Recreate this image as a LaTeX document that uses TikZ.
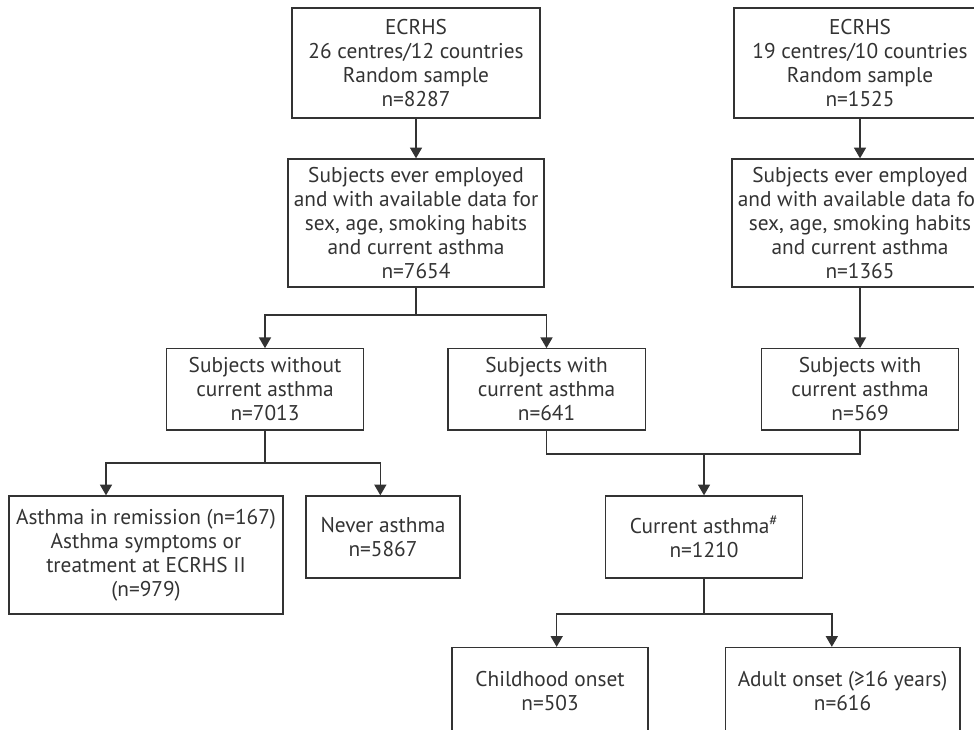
\documentclass[tikz,border=0pt]{standalone}
\usepackage{fontspec}
\setmainfont{PT Sans}
\usetikzlibrary{arrows.meta}

\definecolor{ink}{HTML}{333333}

\tikzset{
  box/.style={draw=ink, line width=1pt, text=ink, align=center, inner sep=0pt,
    font=\fontsize{16}{18}\selectfont},
  arr/.style={draw=ink, line width=1pt, -{Triangle[width=9pt,length=8pt]}},
  lin/.style={draw=ink, line width=1pt}
}

\begin{document}
\begin{tikzpicture}[x=0.75pt, y=-0.75pt] % one unit = one pixel of the flow chart
\useasboundingbox (0,0) rectangle (974,730);

%% the two ECRHS samples
\node[box, minimum width=186pt, minimum height=82.5pt] (ecrhsA) at (416,63)
  {ECRHS\\26 centres/12 countries\\Random sample\\n=8287};
\node[box, minimum width=189pt, minimum height=82.5pt] (ecrhsB) at (860,63)
  {ECRHS\\19 centres/10 countries\\Random sample\\n=1525};

%% subjects ever employed
\node[box, minimum width=192pt, minimum height=96pt] (employA) at (416,223)
  {Subjects ever employed\\and with available data for\\sex, age, smoking habits\\and current asthma\\n=7654};
\node[box, minimum width=192pt, minimum height=96pt] (employB) at (860,223)
  {Subjects ever employed\\and with available data for\\sex, age, smoking habits\\and current asthma\\n=1365};

%% current asthma or not
\node[box, minimum width=148pt, minimum height=61pt] (noasthA) at (265,389.5)
  {Subjects without\\current asthma\\n=7013};
\node[box, minimum width=148pt, minimum height=61pt] (withA) at (546.5,389.5)
  {Subjects with\\current asthma\\n=641};
\node[box, minimum width=148pt, minimum height=61pt] (withB) at (860,389.5)
  {Subjects with\\current asthma\\n=569};

%% no current asthma split
\node[box, minimum width=205.5pt, minimum height=88.5pt] (remiss) at (146,555)
  {Asthma in remission (n=167)\\Asthma symptoms or\\treatment at ECRHS II\\(n=979)};
\node[box, minimum width=115.5pt, minimum height=61.5pt] (never) at (383,537)
  {Never asthma\\n=5867};

%% pooled current asthma
\node[box, minimum width=148pt, minimum height=61.5pt] (current) at (704,537)
  {Current asthma\textsuperscript{\#}\\n=1210};

% onset boxes run past the bottom edge
\node[box, minimum width=147pt, minimum height=66pt] (child) at (550,691.5)
  {Childhood onset\\n=503};
\node[box, minimum width=176pt, minimum height=66pt] (adult) at (842.5,691.5)
  {Adult onset (≥16 years)\\n=616};

%% connectors
\coordinate (splitA) at (416,315);
\coordinate (splitN) at (265,463);
\coordinate (merge) at (704,454);
\coordinate (splitC) at (704,614);

\draw[arr] (ecrhsA) -- (employA);
\draw[arr] (ecrhsB) -- (employB);
\draw[arr] (employB) -- (withB);

\draw[lin] (employA) -- (splitA);
\draw[arr] (splitA) -| (noasthA);
\draw[arr] (splitA) -| (withA);

\draw[lin] (noasthA) -- (splitN);
\draw[arr] (splitN) -| ([xshift=-30pt]remiss.north);
\draw[arr] (splitN) -| ([xshift=-2pt]never.north);

\draw[lin] (withA) |- (merge) -| (withB);
\draw[arr] (merge) -- (current);

\draw[lin] (current) -- (splitC);
\draw[arr] (splitC) -| ([xshift=5pt]child.north);
\draw[arr] (splitC) -| ([xshift=-8pt]adult.north);

\end{tikzpicture}
\end{document}
